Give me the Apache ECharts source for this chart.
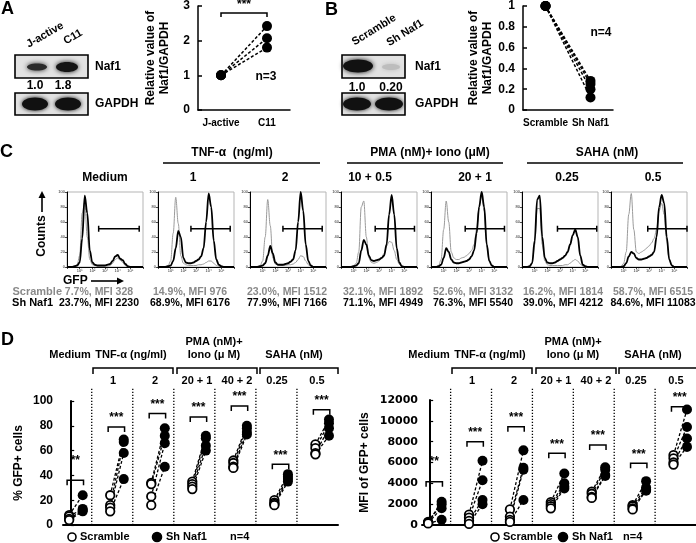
<!DOCTYPE html>
<html><head><meta charset="utf-8">
<script src="https://cdn.jsdelivr.net/npm/echarts@6/dist/echarts.min.js"></script>
<style>html,body{margin:0;padding:0;background:#fff}#c{width:696px;height:543px}</style>
</head><body><div id="c"></div>
<script>
// ================= DATA =================
// Panel A
const aCats = ['J-active', 'C11'];
const aJactive = [1, 1, 1];
const aC11 = [2.42, 2.07, 1.8];
const aBracket = 2.8;
// Panel B
const bCats = ['Scramble', 'Sh Naf1'];
const bScramble = [1, 1, 1, 1];
const bShNaf1 = [0.28, 0.25, 0.2, 0.12];
// Panel C histograms (x in log decades, y = % of max)
const histX = [0,0.2,0.4,0.6,0.8,1.0,1.2,1.4,1.6,1.8,2.0,2.2,2.4,2.6,2.8,3.0,3.2,3.4,3.6,3.8,4.0,4.2,4.4,4.6,4.8,5.0,5.2,5.4,5.6,5.8,6.0];
const histTitles = ['Medium', '1', '2', '10 + 0.5', '20 + 1', '0.25', '0.5'];
const hMediumScr = [0,0,0,1,3,15,72,86,40,10,3,2,1,1,1,1,1,2,5,10,12,9,6,2,1,0,0,0,0,0,0];
const hMediumSh  = [0,0,0,1,2,6,38,95,72,22,6,3,2,2,2,2,3,4,8,14,16,11,9,4,1,0,0,0,0,0,0];
const hTnf1Scr   = [0,0,0,1,2,8,45,93,58,15,5,3,2,2,2,2,3,3,4,6,8,8,5,2,1,0,0,0,0,0,0];
const hTnf1Sh    = [0,0,0,0,1,2,8,25,48,40,12,6,5,5,6,8,10,14,25,60,98,80,35,10,3,1,0,0,0,0,0];
const hTnf2Scr   = [0,0,0,1,2,8,40,90,55,12,4,3,2,2,2,3,3,4,6,10,15,14,8,3,1,0,0,0,0,0,0];
const hTnf2Sh    = [0,0,0,0,1,2,5,15,28,18,6,3,3,3,4,5,7,10,22,60,100,75,30,8,2,0,0,0,0,0,0];
const hPma10Scr  = [0,0,0,0,1,2,5,20,80,88,40,12,6,5,6,8,12,18,28,34,33,22,10,4,1,0,0,0,0,0,0];
const hPma10Sh   = [0,0,0,0,0,1,2,5,22,36,30,15,9,8,9,10,12,15,30,70,96,70,25,6,1,0,0,0,0,0,0];
const hPma20Scr  = [0,0,0,2,10,50,88,60,20,12,10,10,12,13,15,18,22,30,50,80,95,75,30,8,2,0,0,0,0,0,0];
const hPma20Sh   = [0,0,0,1,3,12,25,20,10,6,5,5,6,7,8,10,14,22,45,80,100,80,30,8,2,0,0,0,0,0,0];
const hSaha25Scr = [0,0,0,1,5,30,78,78,30,8,3,2,2,2,2,2,2,3,3,5,8,10,8,4,1,0,0,0,0,0,0];
const hSaha25Sh  = [0,0,0,1,5,35,90,95,40,12,6,5,5,6,8,10,12,15,20,30,42,50,40,15,3,1,0,0,0,0,0];
const hSaha5Scr  = [0,0,0,0,1,5,20,70,98,50,20,18,20,22,25,28,32,38,50,75,85,70,35,10,2,0,0,0,0,0,0];
const hSaha5Sh   = [0,0,0,0,0,1,5,14,20,18,12,10,10,11,12,14,16,20,40,80,96,85,40,10,2,0,0,0,0,0,0];
const gateStart = [2.5, 2.6, 2.6, 2.7, 2.7, 2.8, 2.9];
const gateEnd   = [5.7, 5.7, 5.7, 5.8, 5.8, 5.9, 6.0];
const gateLevel = 51;
const statsScramble = ['7.7%, MFI 328','14.9%, MFI 976','23.0%, MFI 1512','32.1%, MFI 1892','52.6%, MFI 3132','16.2%, MFI 1814','58.7%, MFI 6515'];
const statsShNaf1   = ['23.7%, MFI 2230','68.9%, MFI 6176','77.9%, MFI 7166','71.1%, MFI 4949','76.3%, MFI 5540','39.0%, MFI 4212','84.6%, MFI 11083'];
// Panel D
const dGroups = ['Medium', '1', '2', '20 + 1', '40 + 2', '0.25', '0.5'];
const pctScramble = [[8,7,5,4],[24,16,14,11],[34,33,23,16],[35,33,31,29],[52,50,47,46],[20,18,17,16],[65,62,58,57]];
const pctShNaf1   = [[24,13,12,11],[69,67,58,37],[78,72,66,47],[72,70,64,60],[80,78,75,73],[41,39,37,35],[85,82,78,72]];
const pctBracket  = [36, 79, 90, 87, 96, 49, 93];
const mfiScramble = [[250,300,200,150],[1000,700,400,100],[1500,800,500,300],[2200,2000,1800,1600],[3200,3000,2700,2600],[1900,1800,1600,1500],[6700,6400,6000,5800]];
const mfiShNaf1   = [[2230,2000,1600,500],[6176,4300,2400,2000],[7166,5500,5300,2400],[4949,4000,3700,3500],[5540,5300,4800,4700],[4212,3600,3400,3300],[11083,9400,8300,7500]];
const mfiBracket  = [4160, 8000, 9440, 6880, 7680, 5920, 11360];
const dStars = ['**','***','***','***','***','***','***'];

// ================= STYLE / LAYOUT =================
const FF = '"Liberation Sans", Arial, Helvetica, sans-serif';
const SUP = ['\u2070','\u00b9','\u00b2','\u00b3','\u2074','\u2075','\u2076'];
const histScr = [hMediumScr,hTnf1Scr,hTnf2Scr,hPma10Scr,hPma20Scr,hSaha25Scr,hSaha5Scr];
const histSh  = [hMediumSh,hTnf1Sh,hTnf2Sh,hPma10Sh,hPma20Sh,hSaha25Sh,hSaha5Sh];
const HL = [67,158,250,341,431,522,611];
const SCR_OFF = -0.05, SH_OFF = 0.28;
const DX_MIN = -0.2, DX_MAX = 6.5;

const chart = echarts.init(document.getElementById('c'), null, {renderer:'canvas'});

const g = [];
function txt(x,y,s,o={}){ g.push({type:'text', x, y, rotation:o.rot||0, z:10, style:{text:s, fill:o.color||'#000', fontFamily:FF, fontWeight:o.weight||'bold', fontSize:o.size||12, align:o.align||'center', textAlign:o.align||'center', verticalAlign:o.va||'middle', textVerticalAlign:o.va||'middle'}}); }
function line(x1,y1,x2,y2,o={}){ g.push({type:'line', z:10, shape:{x1,y1,x2,y2}, style:{stroke:o.color||'#000', lineWidth:o.w||1.5, lineDash:o.dash||null}}); }
function poly(points,o={}){ g.push({type:'polyline', z:10, shape:{points}, style:{stroke:'#000', lineWidth:o.w||1.5, fill:null}}); }
function tri(points){ g.push({type:'polygon', z:10, shape:{points}, style:{fill:'#000'}}); }
function rect(x,y,w,h){ g.push({type:'rect', z:5, shape:{x,y,width:w,height:h}, style:{fill:'#e2e2e2', stroke:'#000', lineWidth:1.6}}); }
function band(cx,cy,rx,ry,col,blur){ g.push({type:'ellipse', z:6, shape:{cx,cy,rx,ry}, style:{fill:col, shadowBlur:blur||4, shadowColor:col}}); }
function circ(cx,cy,r,filled){ g.push({type:'circle', z:10, shape:{cx,cy,r}, style:{fill:filled?'#000':'#fff', stroke:'#000', lineWidth:1.6}}); }

// Panel letters
txt(1,9,'A',{size:18,align:'left'});
txt(325,10,'B',{size:18,align:'left'});
txt(0,152,'C',{size:18,align:'left'});
txt(1,340,'D',{size:18,align:'left'});

// Blot A
txt(45,35,aCats[0],{rot:0.52,size:11});
txt(73,37,aCats[1],{rot:0.52,size:11});
rect(15,55,73,23);
band(37,67,10,3.5,'#2a2a2a',5);
band(67,67,11,5,'#151515',5);
txt(35,86,'1.0',{size:12}); txt(63,86,'1.8',{size:12});
rect(15,93,73,22);
band(35,104,13,6.5,'#111',4);
band(68,104,13,6.5,'#111',4);
txt(95,67,'Naf1',{align:'left',size:12});
txt(95,104,'GAPDH',{align:'left',size:12});

// Blot B
txt(374,30,bCats[0],{rot:0.55,size:11});
txt(405,33,bCats[1],{rot:0.55,size:11});
rect(342,55,63,23);
band(358,66,15,6.5,'#111',5);
band(391,67,9,3,'#bdbdbd',4);
txt(357,88,'1.0',{size:12}); txt(391,88,'0.20',{size:12});
rect(342,93,63,22);
band(357,104,14,6.5,'#111',4);
band(389,104,14,6.5,'#111',4);
txt(415,67,'Naf1',{align:'left',size:12});
txt(415,104,'GAPDH',{align:'left',size:12});

txt(266,77,'n=3',{size:12});
txt(601,33,'n=4',{size:12});

// Panel C headers
txt(232,153,'TNF-\u03b1  (ng/ml)',{size:12}); line(163,163,320,163);
txt(430,153,'PMA (nM)+ Iono (\u03bcM)',{size:12}); line(347,163,503,163);
txt(607,153,'SAHA (nM)',{size:12}); line(527,163,683,163);
const histTitleX = [105,193,285,370,475,567,653];
histTitles.forEach((t,i)=>txt(histTitleX[i],178,t,{size:12}));
// Counts / GFP arrows
txt(42,236,'Counts',{rot:Math.PI/2,size:12});
line(42,212,42,197,{w:1.6}); tri([[42,191],[38.5,198],[45.5,198]]);
txt(63,281,'GFP',{align:'left',size:12});
line(91,281,118,281,{w:1.6}); tri([[124,281],[117,277.5],[117,284.5]]);
// stats rows
const statX = [99,190,287,383,473,563,653];
txt(62,292,'Scramble',{align:'right',size:11,color:'#8a8a8a'});
txt(53,303,'Sh Naf1',{align:'right',size:11});
statsScramble.forEach((s,i)=>txt(statX[i],292,s,{size:10.5,color:'#8a8a8a'}));
statsShNaf1.forEach((s,i)=>txt(statX[i],303,s,{size:10.5}));

// Panel D headers
[0,359].forEach(off=>{
  txt(70+off,355,'Medium',{size:11});
  txt(131+off,355,'TNF-\u03b1 (ng/ml)',{size:11});
  txt(214+off,342,'PMA (nM)+',{size:11});
  txt(214+off,355,'Iono (\u03bc M)',{size:11});
  txt(294+off,355,'SAHA (nM)',{size:11});
  poly([[93+off,374],[93+off,368],[173+off,368],[173+off,374]]);
  poly([[177+off,374],[177+off,368],[257+off,368],[257+off,374]]);
  poly([[260+off,374],[260+off,368],[338+off,368],[338+off,374]]);
  const numX = [113,155,197,237,277,317];
  dGroups.slice(1).forEach((t,i)=>txt(numX[i]+off,381,t,{size:11}));
});
// D legends
circ(72,537,4,false); txt(80,537,'Scramble',{align:'left',size:11});
circ(157,537,4.5,true); txt(166,537,'Sh Naf1',{align:'left',size:11});
txt(230,537,'n=4',{align:'left',size:11});
circ(495,537,4,false); txt(503,537,'Scramble',{align:'left',size:11});
circ(563,537,4.5,true); txt(572,537,'Sh Naf1',{align:'left',size:11});
txt(623,537,'n=4',{align:'left',size:11});

// ================= AXES / SERIES =================
const grids = [], xAxes = [], yAxes = [], series = [];
const blackLine = {color:'#000', width:1.5};
const boldLbl = (sz, m) => ({color:'#000', fontWeight:'bold', fontSize:sz, fontFamily:FF, margin:m});
const nameStyle = {color:'#000', fontWeight:'bold', fontSize:12, fontFamily:FF, lineHeight:14};

// ---- A ----
grids.push({left:198, top:5, width:92, height:105});
xAxes.push({gridIndex:0, type:'category', data:aCats, axisLine:{lineStyle:blackLine}, axisTick:{inside:true,length:4,lineStyle:blackLine}, axisLabel:Object.assign(boldLbl(10,8),{interval:0, hideOverlap:false})});
yAxes.push({gridIndex:0, type:'value', min:0, max:3, interval:1, axisLine:{show:true,lineStyle:blackLine}, axisTick:{show:true,inside:true,length:4,lineStyle:blackLine}, axisLabel:boldLbl(12,8), splitLine:{show:false}, name:'Relative value of\nNaf1/GAPDH', nameLocation:'middle', nameGap:26, nameTextStyle:nameStyle});
aJactive.forEach((v,i)=>series.push({type:'line', xAxisIndex:0, yAxisIndex:0, data:[v, aC11[i]], symbol:'circle', symbolSize:10, itemStyle:{color:'#000'}, lineStyle:{color:'#000', width:1.5, type:[3,2]}, z:3}));
series.push({type:'custom', xAxisIndex:0, yAxisIndex:0, data:[[0, aBracket]], z:4, renderItem:(p,api)=>{
  const a = api.coord([0, api.value(1)]), b = api.coord([1, api.value(1)]);
  return {type:'group', children:[
    {type:'polyline', shape:{points:[[a[0],a[1]+4],[a[0],a[1]],[b[0],b[1]],[b[0],b[1]+4]]}, style:{stroke:'#000', lineWidth:1.5, fill:null}},
    {type:'text', x:(a[0]+b[0])/2, y:a[1]-2, style:{text:'***', fill:'#000', font:'bold 12px '+FF, align:'center', textAlign:'center', verticalAlign:'bottom', textVerticalAlign:'bottom'}}
  ]};
}});

// ---- B ----
grids.push({left:523, top:4, width:90, height:106});
xAxes.push({gridIndex:1, type:'category', data:bCats, axisLine:{lineStyle:blackLine}, axisTick:{inside:true,length:4,lineStyle:blackLine}, axisLabel:Object.assign(boldLbl(10,8),{interval:0, hideOverlap:false})});
yAxes.push({gridIndex:1, type:'value', min:0, max:1, interval:0.2, axisLine:{show:true,lineStyle:blackLine}, axisTick:{show:true,inside:true,length:4,lineStyle:blackLine}, axisLabel:boldLbl(12,8), splitLine:{show:false}, name:'Relative value of\nNaf1/GAPDH', nameLocation:'middle', nameGap:28, nameTextStyle:nameStyle});
bScramble.forEach((v,i)=>series.push({type:'line', xAxisIndex:1, yAxisIndex:1, data:[v, bShNaf1[i]], symbol:'circle', symbolSize:10, itemStyle:{color:'#000'}, lineStyle:{color:'#000', width:1.5, type:[3,2]}, z:3}));

// ---- C histograms ----
histTitles.forEach((t,k)=>{
  const gi = grids.length;
  grids.push({left:HL[k], top:192, width:76, height:75, show:true, borderColor:'#b5b5b5', borderWidth:1});
  xAxes.push({gridIndex:gi, type:'value', min:0, max:6, interval:1, axisLine:{onZero:false,lineStyle:{color:'#000',width:1}}, axisTick:{length:2,lineStyle:{color:'#000',width:0.7}}, axisLabel:{fontSize:4, margin:2, color:'#222', formatter:v=>(v>=1&&v<=5)?'10'+SUP[v]:''}, splitLine:{show:false}});
  yAxes.push({gridIndex:gi, type:'value', min:0, max:100, interval:20, axisLine:{show:true,lineStyle:{color:'#000',width:1}}, axisTick:{show:true,length:2,lineStyle:{color:'#000',width:0.7}}, axisLabel:{fontSize:4, margin:2, color:'#222'}, splitLine:{show:false}});
  series.push({type:'line', xAxisIndex:gi, yAxisIndex:gi, data:histX.map((x,j)=>[x, histScr[k][j]]), smooth:0.35, smoothMonotone:'x', showSymbol:false, lineStyle:{color:'#9a9a9a', width:1}, z:2});
  series.push({type:'line', xAxisIndex:gi, yAxisIndex:gi, data:histX.map((x,j)=>[x, histSh[k][j]]), smooth:0.35, smoothMonotone:'x', showSymbol:false, lineStyle:{color:'#000', width:1.8}, z:3});
  series.push({type:'custom', xAxisIndex:gi, yAxisIndex:gi, data:[[gateStart[k], gateEnd[k], gateLevel]], z:4, renderItem:(p,api)=>{
    const a = api.coord([api.value(0), api.value(2)]), b = api.coord([api.value(1), api.value(2)]);
    return {type:'group', children:[
      {type:'line', shape:{x1:a[0],y1:a[1],x2:b[0],y2:b[1]}, style:{stroke:'#000', lineWidth:1.5}},
      {type:'line', shape:{x1:a[0],y1:a[1]-3,x2:a[0],y2:a[1]+3}, style:{stroke:'#000', lineWidth:1.5}},
      {type:'line', shape:{x1:b[0],y1:b[1]-3,x2:b[0],y2:b[1]+3}, style:{stroke:'#000', lineWidth:1.5}}
    ]};
  }});
});

// ---- D ----
function dPanel(left, top, height, ymax, yint, yname, ngap, scr, sh, brk, lblFont, lblMargin, lblSize){
  const gi = grids.length;
  grids.push({left, top, width:275, height});
  xAxes.push({gridIndex:gi, type:'value', min:DX_MIN, max:DX_MAX, axisLine:{onZero:false,lineStyle:{color:'#000',width:2}}, axisTick:{show:false}, axisLabel:{show:false}, splitLine:{show:false}});
  yAxes.push({gridIndex:gi, type:'value', min:0, max:ymax, interval:yint, axisLine:{show:true,lineStyle:{color:'#000',width:2}}, axisTick:{show:true,inside:true,length:3,lineStyle:{color:'#000',width:1.2}}, axisLabel:{color:'#000', fontWeight:'bold', fontSize:lblSize, fontFamily:lblFont, margin:lblMargin, formatter:v=>String(v)}, splitLine:{show:false}, name:yname, nameLocation:'middle', nameGap:ngap, nameTextStyle:nameStyle});
  // separators
  series.push({type:'custom', xAxisIndex:gi, yAxisIndex:gi, data:dGroups.slice(1).map((_,i)=>[i+0.5, 0]), z:1, renderItem:(p,api)=>{
    const b = api.coord([api.value(0), 0]);
    return {type:'line', shape:{x1:b[0],y1:b[1],x2:b[0],y2:b[1]-138}, style:{stroke:'#000', lineWidth:1.3, lineDash:[1.3,1.7]}};
  }});
  // pair lines
  scr.forEach((grp,i)=>grp.forEach((v,j)=>series.push({type:'line', xAxisIndex:gi, yAxisIndex:gi, data:[[i+SCR_OFF, v],[i+SH_OFF, sh[i][j]]], showSymbol:false, lineStyle:{color:'#000', width:1.3, type:[3,2]}, z:2})));
  series.push({name:'Scramble', type:'scatter', xAxisIndex:gi, yAxisIndex:gi, data:scr.flatMap((grp,i)=>grp.map(v=>[i+SCR_OFF, v])), symbol:'circle', symbolSize:8.5, itemStyle:{color:'#fff', borderColor:'#000', borderWidth:1.8, opacity:1}, z:4});
  series.push({name:'Sh Naf1', type:'scatter', xAxisIndex:gi, yAxisIndex:gi, data:sh.flatMap((grp,i)=>grp.map(v=>[i+SH_OFF, v])), symbol:'circle', symbolSize:10, itemStyle:{color:'#000', opacity:1}, z:5});
  // brackets
  series.push({type:'custom', xAxisIndex:gi, yAxisIndex:gi, data:brk.map((h,i)=>[i, h]), z:6, renderItem:(p,api)=>{
    const i = api.value(0), h = api.value(1);
    const a = api.coord([i-0.1, h]), b = api.coord([i+0.3, h]);
    const gap = p.dataIndex === 0 ? 14 : 3;
    return {type:'group', children:[
      {type:'polyline', shape:{points:[[a[0],a[1]+5],[a[0],a[1]],[b[0],b[1]],[b[0],b[1]+5]]}, style:{stroke:'#000', lineWidth:1.5, fill:null}},
      {type:'text', x:(a[0]+b[0])/2, y:a[1]-gap, style:{text:dStars[p.dataIndex], fill:'#000', font:'bold 12px '+FF, align:'center', textAlign:'center', verticalAlign:'bottom', textVerticalAlign:'bottom'}}
    ]};
  }});
}
dPanel(63, 401, 124, 100, 20, '% GFP+ cells', 37, pctScramble, pctShNaf1, pctBracket, FF, 10, 12);
dPanel(422, 400, 125, 12000, 2000, 'MFI of GFP+ cells', 50, mfiScramble, mfiShNaf1, mfiBracket, '"DejaVu Sans", sans-serif', 4, 11);

chart.setOption({
  animation:false,
  backgroundColor:'#fff',
  textStyle:{fontFamily:FF},
  grid:grids, xAxis:xAxes, yAxis:yAxes, series,
  graphic:{elements:g}
});
</script>
</body></html>
